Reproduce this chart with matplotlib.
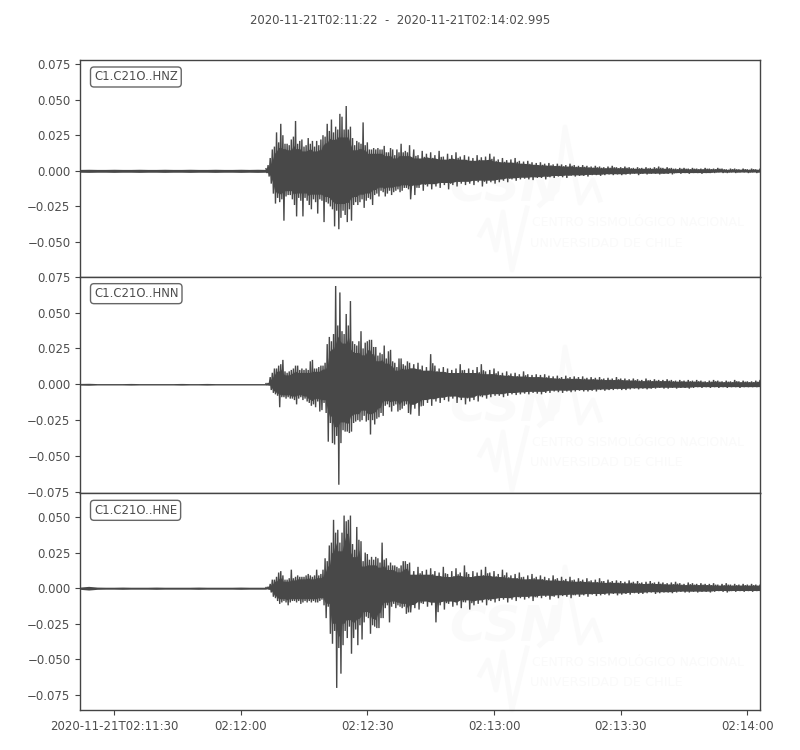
import numpy as np
import matplotlib
matplotlib.use("Agg")
import matplotlib.pyplot as plt
import matplotlib.dates as mdates

# Peak amplitudes, in units of 0.001
pre_z = [1.0,1.1,1.0,1.0,1.1,1.0,1.0,1.1,1.0,1.0,1.1,1.0,1.0,1.1,1.0,1.0,1.1,1.0,1.0,1.1,1.0,1.1,1.0]
pre_n = [0.6,0.7,0.5,0.5,0.5,0.5,0.6,0.5,0.5,0.5,0.5,0.5,0.6,0.5,0.5,0.6,0.5,0.5,0.5,0.5,0.5,0.5,0.5]
pre_e = [0.8,1.3,0.8,0.7,0.7,0.8,0.7,0.7,0.7,0.8,0.7,0.7,0.7,0.7,0.8,0.7,0.7,0.7,0.7,0.8,0.7,0.7,0.7]

z_up_a = [1.5,4,9,15,17,27,20,33,25,19,
          19,18,22,24,35,19,21,22,17,18,
          23,19,21,17,21,18,22,25,24,33,
          28,36,27,31,29,40,38,29,45.5,29,
          31,23,18,21,20,19,34,18,20,15,
          15,16,15,16,15,15,17.5,13,13,16,
          15,11,15,13,19,13,14,13,18]
z_dn_a = [-1.5,-4,-9,-16,-23,-19,-22,-20,-35,-18,
          -17,-17,-20,-24,-32,-19,-21,-32,-19,-21,
          -24,-27,-20,-22,-30,-20,-21,-36,-22,-23,
          -25,-27,-39,-28,-41,-33,-28,-31,-36,-27,
          -35,-24,-22,-24,-22,-20,-26,-21,-19,-20,
          -24,-17,-16,-18,-14,-15,-18,-16,-14,-17,
          -15,-14,-13,-15,-14,-12,-12,-13,-20]
z_up_b = [15,11,14,12,13,11,14,10,12,11,
          13,10,11,10,9,11,9.5,10,12,10,
          8,9,7.5,8,9,7,6.5,7,6,5.5,
          6,5,5.5,4.5,5,4.5,4,5,4,3.5,
          4,3.5,3,3.5,3,2.5,3,3.5,2.5,2.5,
          3,2.5,2,2.5,2,2.5,2,2.5,3,2,
          2.5,2,1.5,2,2,1.5,2,1.5,1.5,2,
          1.5,1.5,2,1.5,1,1.5,1.5,1,1.5,1,
          1.5,1,1.5]
z_dn_b = [-17,-12,-14,-11,-13,-11,-12,-10,-13,-10,
          -11,-9,-10,-9,-10,-8,-11,-9,-8,-9,
          -8,-7,-8,-6,-7,-6,-5.5,-6,-6.5,-5,
          -5,-6,-4.5,-5,-4,-4.5,-5,-3.5,-4,-3.5,
          -3.5,-4,-3,-3,-3.5,-3,-2.5,-3,-2.5,-3,
          -2.5,-2.5,-2,-3,-2,-2.5,-2,-2,-2.5,-2,
          -2,-2.5,-1.5,-2,-1.5,-2,-1.5,-1.5,-2,-1.5,
          -1.5,-1.5,-1,-1.5,-1.5,-1,-1.5,-1,-1,-1.5,
          -1,-1.5,-1]

n_up_a = [0.5,0.8,5,8,11,11,13,14,17,9,
          8,9,10,11,13,13,10,11,10,11,
          10,16,17,11,11,12,13,13,15,28,
          33,30,35,68.5,41,64,37,35,49,41,
          58,30,28,27,30,37,25,29,30,31,
          31,26,26,20,22,21,27,18,23,24,
          16,15,12,18,18,14,13,16,15]
n_dn_a = [-0.5,-0.8,-4,-6,-7,-8,-16,-9,-9,-10,
          -9,-10,-10,-11,-14,-10,-9,-11,-10,-12,
          -13,-15,-14,-16,-12,-19,-18,-13,-20,-40,
          -27,-41,-42,-36,-70,-41,-32,-33,-33,-34,
          -33,-27,-26,-25,-26,-25,-22,-26,-25,-35,
          -25,-28,-24,-23,-20,-22,-15,-14,-16,-19,
          -15,-14,-19,-18,-17,-15,-14,-20,-21]
n_up_b = [14,15,13,12,21,13,11,12,11,10,
          11,14,10,11,10,12,14,9,10,11,
          9,8,9,7.5,8,7,9,7,6.5,7,
          6.5,7,6,5.5,6,5,6,5,5.5,5,
          5.5,4.5,5,4.5,5,4,4.5,4,5,4,
          4,3.5,4,3.5,3,4,3,3.5,3,3,
          3.5,3,2.5,3,2.5,3,2.5,3,2.5,2,
          2.5,3,2.5,2,2.5,2,3,2,2.5,2,
          2,2.5,3]
n_dn_b = [-17,-22,-15,-13,-15,-12,-13,-11,-12,-10,
          -13,-11,-14,-12,-11,-12,-9,-10,-9,-8,
          -8,-9,-8,-7,-7.5,-7,-6.5,-7,-6,-6.5,
          -7,-6,-6,-5,-5.5,-6,-5,-5.5,-5,-4.5,
          -5,-5,-4.5,-5,-4,-4.5,-4,-4,-3.5,-4,
          -4,-3.5,-3,-3.5,-3,-3.5,-3,-3,-2.5,-3,
          -3,-2.5,-3,-2.5,-2.5,-3,-2.5,-2,-2.5,-2,
          -2.5,-2,-2.5,-2,-2.5,-2,-2,-2.5,-2,-2,
          -2,-2,-2.5]

e_up_a = [0.5,1,3,6,6,8,11,12,9,6,
          6,7,13,7,8,9,8,8,8,9,
          10,9,8,9,13,9,10,13,21,19,
          30,32,48,39,41,32,39,51,47,48,
          51,31,27,43,34,33,19,25,24,20,
          22,20,22,21,18,32,20,21,16,18,
          16,16,15,14,16,19,19,17,18]
e_dn_a = [-0.5,-1,-3,-6,-7,-9,-11,-10,-9,-10,
          -12,-10,-9,-9,-10,-9,-11,-10,-9,-10,
          -9,-10,-9,-10,-10,-9,-8,-12,-21,-13,
          -32,-39,-30,-70,-42,-60,-40,-30,-35,-27,
          -46,-35,-29,-40,-26,-36,-24,-20,-21,-32,
          -26,-27,-28,-28,-21,-21,-14,-12,-24,-13,
          -11,-14,-12,-13,-14,-13,-18,-17,-17]
e_up_b = [12,15,12,13,14,12,11,15,10,12,
          14,11,16,10,12,11,13,15,11,12,
          10,13,11,9,10,11,8,9,10,8,
          9,8,7,9,7,8,6.5,8,6,7,
          6,7,5.5,6,7,5,6,5,5.5,5,
          4.5,5.5,4.5,5,4,4.5,5,4,4.5,4,
          3.5,4,4.5,3.5,3,4,3.5,3,3.5,3,
          3,3.5,2.5,3,3.5,2.5,3,2.5,3,2.5,
          3,2.5,2.5]
e_dn_b = [-14,-15,-11,-13,-12,-24,-12,-15,-11,-13,
          -12,-14,-10,-15,-12,-11,-10,-12,-9,-10,
          -9,-8,-10,-8,-9,-7,-8,-7,-9,-6.5,
          -7,-6,-8,-6,-7,-5.5,-6,-7,-5,-6,
          -5,-6,-4.5,-5.5,-5,-4.5,-5,-4,-5,-4.5,
          -4,-4.5,-3.5,-4,-4,-3.5,-3,-4,-3.5,-3,
          -3,-3.5,-3,-2.5,-3,-3,-2.5,-3,-2.5,-2.5,
          -3,-2.5,-2,-2.5,-3,-2,-2.5,-2,-2.5,-2,
          -2.5,-2,-2]

channels = ["C1.C21O..HNZ", "C1.C21O..HNN", "C1.C21O..HNE"]
title_text = "2020-11-21T02:11:22  -  2020-11-21T02:14:02.995"
y_ticks = [[0.075, 0.05, 0.025, 0.0, -0.025, -0.05],
           [0.075, 0.05, 0.025, 0.0, -0.025, -0.05, -0.075],
           [0.05, 0.025, 0.0, -0.025, -0.05, -0.075]]
y_limits = [(-0.0743, 0.0778), (-0.0760, 0.0750), (-0.0855, 0.0666)]
x_tick_times = ["2020-11-21T02:11:30", "2020-11-21T02:12:00", "2020-11-21T02:12:30",
                "2020-11-21T02:13:00", "2020-11-21T02:13:30", "2020-11-21T02:14:00"]
x_tick_labels = ["2020-11-21T02:11:30", "02:12:00", "02:12:30", "02:13:00", "02:13:30", "02:14:00"]
start_time, end_time = "2020-11-21T02:11:22", "2020-11-21T02:14:02.995"

TRACE = "#484848"
TEXT = "#4d4d4d"
EDGE = "#444444"
MARK = "#fafafa"


def num(stamp):
    return mdates.date2num(np.datetime64(stamp))


origin = num("2020-11-21T02:12:00")
SEC = 1.0 / 86400.0


def trace(up_a, dn_a, up_b, dn_b):
    """Zigzag line through the peaks of the shaking part."""
    times, values = [], []
    for i, (u, d) in enumerate(zip(up_a, dn_a)):
        t = 6 + 0.5 * i
        times += [t, t + 0.25]
        values += [u, d]
    for i, (u, d) in enumerate(zip(up_b, dn_b)):
        t = 41 + i
        times += [t, t + 0.25, t + 0.5, t + 0.75]
        values += [u, d, 0.7 * u, 0.7 * d]
    return origin + np.array(times) * SEC, np.array(values) * 1e-3


def body(pre, up_a, dn_a, up_b, dn_b):
    """Solid centre of the trace: the low envelope of neighbouring peaks."""
    t = np.concatenate([-38 + 2.0 * np.arange(len(pre)),
                        6 + 0.5 * np.arange(len(up_a)),
                        41 + 1.0 * np.arange(len(up_b))])
    up = np.array(list(pre) + list(up_a) + list(up_b), dtype=float)
    dn = np.array([-v for v in pre] + list(dn_a) + list(dn_b), dtype=float)
    n_pre = len(pre)
    low_up, low_dn = up.copy(), dn.copy()
    for i in range(n_pre, len(up)):
        lo, hi = max(n_pre, i - 1), min(len(up), i + 2)
        low_up[i] = 0.82 * up[lo:hi].min()
        low_dn[i] = 0.82 * dn[lo:hi].max()
    return origin + t * SEC, low_up * 1e-3, low_dn * 1e-3


raw = [(pre_z, z_up_a, z_dn_a, z_up_b, z_dn_b),
       (pre_n, n_up_a, n_dn_a, n_up_b, n_dn_b),
       (pre_e, e_up_a, e_dn_a, e_up_b, e_dn_b)]

fig, axes = plt.subplots(3, 1, figsize=(8, 7.5), dpi=100, sharex=True)
fig.subplots_adjust(left=80.2 / 800, right=760 / 800, top=1 - 60 / 750, bottom=1 - 710 / 750, hspace=0)


def fx(px):
    return px / 800


def fy(py):
    return 1 - py / 750


def watermark(ax, dy):
    kw = dict(transform=fig.transFigure, color=MARK, zorder=0, clip_on=False)
    ax.text(fx(506), fy(187 + dy), "CSN", fontsize=36, fontweight="bold", style="italic",
            ha="center", va="center", **kw)
    ax.text(fx(532), fy(223 + dy), "CENTRO SISMOLÓGICO NACIONAL", fontsize=8.9, ha="left", va="center", **kw)
    ax.text(fx(530), fy(243 + dy), "UNIVERSIDAD DE CHILE", fontsize=9.3, ha="left", va="center", **kw)
    peak_x = [540, 557, 565, 580, 593, 600]
    peak_y = [205, 190, 127, 203, 180, 200]
    ax.plot([fx(v) for v in peak_x], [fy(v + dy) for v in peak_y], lw=3.5, **kw)
    w_x = [480, 488, 496, 503, 512, 527]
    w_y = [235, 220, 250, 212, 270, 208]
    ax.plot([fx(v) for v in w_x], [fy(v + dy) for v in w_y], lw=3.5, **kw)


offsets = [0, 220, 440]
for k, ax in enumerate(axes):
    watermark(ax, offsets[k])
    tb, ub, db = body(*raw[k])
    ax.fill_between(tb, db, ub, color=TRACE, lw=0, zorder=2)
    tt, yy = trace(*raw[k][1:])
    ax.plot(tt, yy, color=TRACE, lw=1.0, zorder=3, solid_joinstyle="miter")
    ax.set_xlim(num(start_time), num(end_time))
    ax.set_ylim(*y_limits[k])
    ax.set_yticks(y_ticks[k])
    ax.set_yticklabels([f"{v:.3f}".replace("-", "\u2212") for v in y_ticks[k]])
    ax.tick_params(axis="y", labelsize=8.45, colors=TEXT, length=3.5, width=0.8, color=EDGE)
    ax.tick_params(axis="x", labelsize=8.45, colors=TEXT, length=3.5, width=0.8, color=EDGE)
    for spine in ax.spines.values():
        spine.set_color(EDGE)
        spine.set_linewidth(1.0)
    ax.text(13.8 / 679.8, 1 - 17 / 216.7, channels[k], transform=ax.transAxes,
            fontsize=8.4, color=TEXT, ha="left", va="center", zorder=5,
            bbox=dict(boxstyle="round,pad=0.3,rounding_size=0.3", fc="white", ec="#666666", lw=1.0))

axes[-1].set_xticks([num(s) for s in x_tick_times])
axes[-1].set_xticklabels(x_tick_labels)
for ax in axes[:-1]:
    ax.tick_params(axis="x", length=0, labelbottom=False)

fig.text(0.5, 1 - 20.5 / 750, title_text, ha="center", va="center", fontsize=8.4, color=TEXT)
fig.savefig("out.png", dpi=100, facecolor="white")
